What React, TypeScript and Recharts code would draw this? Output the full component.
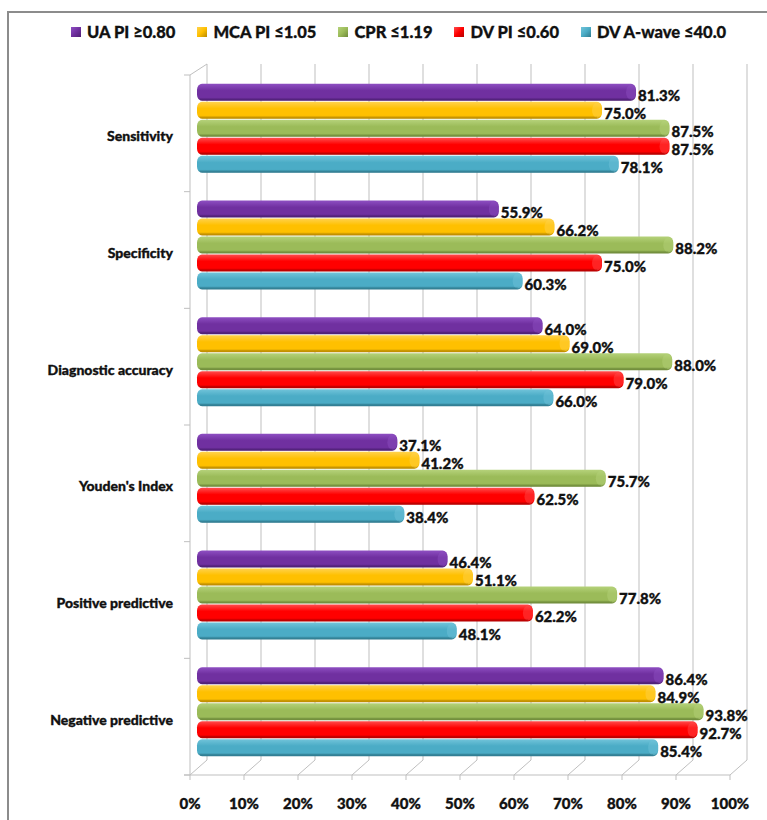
import React from 'react';
import { BarChart, Bar, XAxis, YAxis, CartesianGrid, LabelList } from 'recharts';

const categories = [
  'Sensitivity',
  'Specificity',
  'Diagnostic accuracy',
  "Youden's Index",
  'Positive predictive',
  'Negative predictive',
];

const seriesNames = ['UA PI \u22650.80', 'MCA PI \u22641.05', 'CPR \u22641.19', 'DV PI \u22640.60', 'DV A-wave \u226440.0'];
const seriesKeys = ['ua', 'mca', 'cpr', 'dvpi', 'dva'];

const uaValues = [81.3, 55.9, 64.0, 37.1, 46.4, 86.4];
const mcaValues = [75.0, 66.2, 69.0, 41.2, 51.1, 84.9];
const cprValues = [87.5, 88.2, 88.0, 75.7, 77.8, 93.8];
const dvPiValues = [87.5, 75.0, 79.0, 62.5, 62.2, 92.7];
const dvAValues = [78.1, 60.3, 66.0, 38.4, 48.1, 85.4];

const xTicks = [0, 10, 20, 30, 40, 50, 60, 70, 80, 90, 100];

const colors = [
  { base: '#7030A0', light: '#8E4FC2', dark: '#4E1F73' },
  { base: '#FFC000', light: '#FFD24D', dark: '#B98A00' },
  { base: '#9BBB59', light: '#B5D27A', dark: '#6E8A3A' },
  { base: '#FF0000', light: '#FF4D4D', dark: '#B30000' },
  { base: '#4BACC6', light: '#72C4DA', dark: '#2F7A8E' },
];

const allValues = [uaValues, mcaValues, cprValues, dvPiValues, dvAValues];

const data = categories.map((name, i) => {
  const row: Record<string, any> = { name };
  seriesKeys.forEach((k, s) => {
    row[k] = allValues[s][i];
  });
  return row;
});

const FONT = 'Lato, "Open Sans", sans-serif';
const GRID = '#BFBFBF';
const INK = '#111';

// 3D look: front plane slightly left/down, back plane right/up
const FRONT_DX = -7;
const FRONT_DY = 5;
const BACK_DX = 10;
const BACK_TOP_DY = -6;
const BACK_BOT_DY = -10;

const GridLine = (props: any) => {
  const { x1, y1, y2, index } = props;
  const bx = x1 + BACK_DX;
  const fx = x1 + FRONT_DX;
  const fBottom = y2 + FRONT_DY;
  const bBottom = y2 + BACK_BOT_DY;
  const parts: React.ReactNode[] = [
    <line key="b" x1={bx} y1={y1 + BACK_TOP_DY} x2={bx} y2={bBottom} stroke={GRID} strokeWidth={1} />,
    <line key="d" x1={fx} y1={fBottom} x2={bx} y2={bBottom} stroke={GRID} strokeWidth={1} />,
    <line key="t" x1={fx} y1={fBottom} x2={fx} y2={fBottom + 5} stroke={GRID} strokeWidth={1} />,
  ];
  if (index === 0) {
    const fTop = y1 + FRONT_DY;
    const band = (y2 - y1) / categories.length;
    parts.push(
      <line key="w" x1={fx} y1={fTop} x2={fx} y2={fBottom} stroke={GRID} strokeWidth={1} />,
      <line key="wd" x1={fx} y1={fTop} x2={bx} y2={y1 + BACK_TOP_DY} stroke={GRID} strokeWidth={1} />,
      <line
        key="ax"
        x1={fx - 6}
        y1={fBottom}
        x2={fx + (xTicks.length - 1) * props.step}
        y2={fBottom}
        stroke={GRID}
        strokeWidth={1}
      />
    );
    for (let k = 0; k <= categories.length; k++) {
      const yy = fTop + k * band;
      parts.push(<line key={`wt${k}`} x1={fx - 6} y1={yy} x2={fx} y2={yy} stroke={GRID} strokeWidth={1} />);
    }
  }
  return <g key={props.key}>{parts}</g>;
};

const Bar3D = (props: any) => {
  const { x, y, width, height, s } = props;
  if (!width || width <= 0) return null;
  const c = colors[s];
  const capRx = Math.min(5, width / 2);
  return (
    <g>
      <rect x={x} y={y + 0.5} width={width} height={height - 1} rx={5} ry={6} fill={`url(#barGrad${s})`} />
      <ellipse
        cx={x + width - capRx}
        cy={y + height / 2}
        rx={capRx}
        ry={height / 2 - 1.5}
        fill={c.light}
        opacity={0.45}
      />
      <rect x={x + 3} y={y + height - 2.5} width={Math.max(0, width - 8)} height={1.5} fill={c.dark} opacity={0.5} />
    </g>
  );
};

const ValueLabel = (props: any) => {
  const { x, y, width, height, value } = props;
  return (
    <text
      x={x + width + 2}
      y={y + height / 2 + 9}
      fill={INK}
      stroke={INK}
      strokeWidth={0.35}
      fontFamily={FONT}
      fontWeight={900}
      fontSize={15}
    >
      {Number(value).toFixed(1)}%
    </text>
  );
};

const Legend = () => (
  <div
    style={{
      position: 'absolute',
      top: 22,
      left: 71,
      display: 'flex',
      alignItems: 'center',
      fontFamily: FONT,
      fontWeight: 900,
      fontSize: 16.5,
      color: INK,
      WebkitTextStroke: '0.3px #111',
      whiteSpace: 'nowrap',
    }}
  >
    {seriesNames.map((n, i) => (
      <div key={n} style={{ display: 'flex', alignItems: 'center', marginRight: 22 }}>
        <span
          style={{
            display: 'inline-block',
            width: 10,
            height: 10,
            marginRight: 6,
            background: `linear-gradient(135deg, ${colors[i].light} 0%, ${colors[i].base} 50%, ${colors[i].dark} 100%)`,
          }}
        />
        <span>{n}</span>
      </div>
    ))}
  </div>
);

export default function App() {
  const W = 767;
  const H = 820;
  const plotWidth = 540;
  const step = plotWidth / (xTicks.length - 1);
  return (
    <div style={{ position: 'fixed', left: 0, top: 0, width: W, height: H, overflow: 'hidden', background: '#fff' }}>
      <div
        style={{
          position: 'absolute',
          left: 7,
          top: 11,
          width: 800,
          height: 900,
          border: '2px solid #8C8C8C',
        }}
      />
      <Legend />
      <div style={{ position: 'absolute', left: 0, top: 0 }}>
        <BarChart
          width={W}
          height={H}
          data={data}
          layout="vertical"
          margin={{ top: 70, right: 30, bottom: 20, left: 0 }}
          barCategoryGap="11.4%"
          barGap={0}
        >
          <defs>
            {colors.map((c, i) => (
              <linearGradient key={i} id={`barGrad${i}`} x1="0" y1="0" x2="0" y2="1">
                <stop offset="0%" stopColor={c.light} />
                <stop offset="40%" stopColor={c.base} />
                <stop offset="80%" stopColor={c.base} />
                <stop offset="100%" stopColor={c.dark} />
              </linearGradient>
            ))}
          </defs>
          <CartesianGrid horizontal={false} vertical={(p: any) => <GridLine {...p} step={step} />} />
          <XAxis
            type="number"
            domain={[0, 100]}
            ticks={xTicks}
            tickFormatter={(v: number) => `${v}%`}
            axisLine={false}
            tickLine={false}
            tickSize={0}
            tickMargin={28}
            height={30}
            tick={{ dx: FRONT_DX, fill: INK, stroke: INK, strokeWidth: 0.35, fontFamily: FONT, fontWeight: 900, fontSize: 15 }}
            interval={0}
          />
          <YAxis
            type="category"
            dataKey="name"
            width={197}
            axisLine={false}
            tickLine={false}
            tickSize={0}
            tickMargin={24}
            tick={{ dy: 8, fill: INK, stroke: INK, strokeWidth: 0.35, fontFamily: FONT, fontWeight: 900, fontSize: 14 }}
            interval={0}
          />
          {seriesKeys.map((k, i) => (
            <Bar
              key={k}
              dataKey={k}
              name={seriesNames[i]}
              fill={colors[i].base}
              isAnimationActive={false}
              shape={(p: any) => <Bar3D {...p} s={i} />}
            >
              <LabelList dataKey={k} content={ValueLabel} />
            </Bar>
          ))}
        </BarChart>
      </div>
    </div>
  );
}
